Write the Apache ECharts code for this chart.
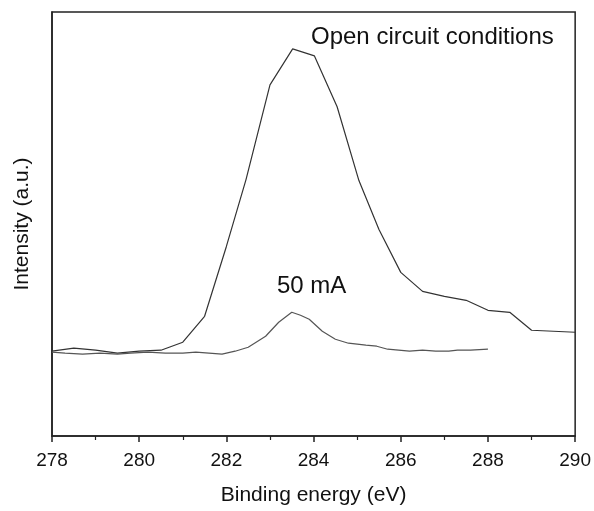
<!DOCTYPE html>
<html>
<head>
<meta charset="utf-8">
<script src="https://cdn.jsdelivr.net/npm/echarts@6/dist/echarts.min.js"></script>
<style>html,body{margin:0;padding:0;background:#fff}#c{width:594px;height:511px}</style>
</head>
<body>
<div id="c"></div>
<script>
// Binding energy (eV) and intensity (a.u., arbitrary scale 0..425)
const openX = [278.0,278.5,279.0,279.5,280.0,280.5,281.0,281.5,282.0,282.45,283.0,283.52,284.02,284.54,285.04,285.5,286.0,286.5,287.0,287.5,288.0,288.5,289.0,290.0];
const openY = [85,88,86,83,85,86,94,120,190,257,352,388,381,330,256,207,164,145,140,136,126,124,106,104];
const maX = [278.0,278.3,278.7,279.1,279.5,279.8,280.2,280.6,281.0,281.3,281.6,281.9,282.2,282.5,282.9,283.2,283.5,283.7,283.9,284.2,284.5,284.8,285.2,285.45,285.7,286.2,286.5,286.8,287.1,287.3,287.6,288.0];
const maY = [84,83,82,83,82,83,84,83,83,84,83,82,85,89,100,114,124,121,117,105,97,93,91,90,87,85,86,85,85,86,86,87];
const xTicks = [278,280,282,284,286,288,290];
const labelOpen = 'Open circuit conditions';
const label50 = '50 mA';

const chart = echarts.init(document.getElementById('c'), null, {renderer:'canvas'});
const font = 'Liberation Sans, Arial, sans-serif';
const zip = (xs, ys) => xs.map((x,i)=>[x, ys[i]]);
chart.setOption({
  animation:false,
  backgroundColor:'#fff',
  grid:{left:52, right:12, top:12, bottom:74, show:true, borderColor:'#222', borderWidth:1.5},
  xAxis:{
    type:'value', min:xTicks[0], max:xTicks[xTicks.length-1], interval:2,
    name:'Binding energy (eV)', nameLocation:'middle', nameGap:49,
    nameTextStyle:{fontFamily:font, fontSize:21, color:'#111'},
    axisLine:{show:true, lineStyle:{color:'#222', width:1.5}},
    axisTick:{show:true, length:6, lineStyle:{color:'#222', width:1.5}},
    minorTick:{show:true, splitNumber:2, length:4, lineStyle:{color:'#222', width:1.2}},
    axisLabel:{fontFamily:font, fontSize:19, color:'#111', margin:15},
    splitLine:{show:false}
  },
  yAxis:{
    type:'value', min:0, max:425,
    name:'Intensity (a.u.)', nameLocation:'middle', nameGap:19,
    nameTextStyle:{fontFamily:font, fontSize:21, color:'#111'},
    axisLine:{show:true, lineStyle:{color:'#222', width:1.5}},
    axisTick:{show:false}, axisLabel:{show:false}, splitLine:{show:false}
  },
  series:[
    {type:'line', data:zip(openX, openY), showSymbol:false, lineStyle:{color:'#333', width:1.2}},
    {type:'line', data:zip(maX, maY), showSymbol:false, lineStyle:{color:'#555', width:1.2}}
  ],
  graphic:[
    {type:'text', left:311, top:25, style:{text:labelOpen, font:'24px '+font, fill:'#111'}},
    {type:'text', left:277, top:274, style:{text:label50, font:'24px '+font, fill:'#111'}}
  ]
});
</script>
</body>
</html>
